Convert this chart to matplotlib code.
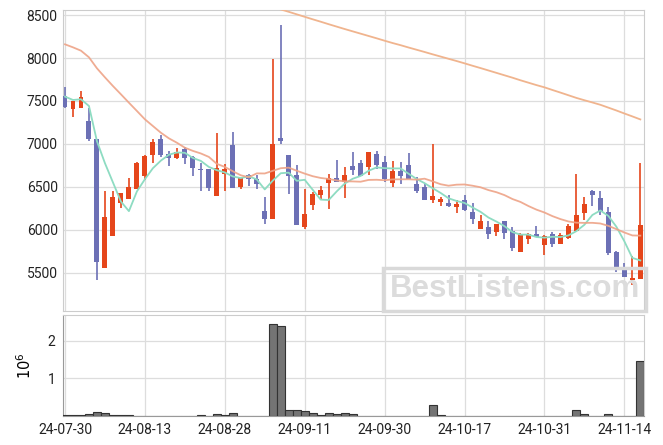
import numpy as np
import pandas as pd
import matplotlib
matplotlib.use("Agg")
import matplotlib.pyplot as plt

# daily OHLC (trading-day index 0..72)
opens = [7562, 7403, 7422, 7267, 7058, 5561, 5933, 6317, 6364, 6477,
         6631, 6872, 7058, 6888, 6841, 6942, 6852, 6710, 6709, 6399,
         6655, 6988, 6503, 6640, 6593, 6221, 6132, 7070, 6872, 6640,
         6031, 6291, 6411, 6547, 6601, 6558, 6744, 6779, 6736, 6884,
         6791, 6544, 6686, 6756, 6535, 6500, 6352, 6322, 6314, 6264,
         6349, 6213, 6016, 6030, 5980, 6105, 5991, 5744, 5898, 5953,
         5823, 5953, 5840, 5903, 5985, 6201, 6453, 6372, 6209, 5739,
         5553, 5415, 5435]
highs = [7659, 7500, 7616, 7415, 7058, 6453, 6453, 6430, 6601, 6790,
         6870, 7058, 7105, 6922, 6950, 6970, 6860, 6775, 6709, 7124,
         6767, 7136, 6610, 6650, 6636, 6380, 7985, 8384, 6872, 6752,
         6473, 6442, 6508, 6647, 6814, 6733, 6907, 6810, 6907, 6919,
         6864, 6802, 6791, 6895, 6613, 6550, 6996, 6383, 6410, 6349,
         6407, 6314, 6171, 6101, 6075, 6110, 6035, 5960, 5960, 6042,
         5940, 5980, 5960, 6073, 6651, 6380, 6460, 6450, 6271, 5760,
         5616, 5694, 6783]
lows = [7415, 7310, 7422, 7038, 5418, 5561, 5933, 6252, 6364, 6477,
        6581, 6779, 6852, 6748, 6822, 6764, 6631, 6453, 6450, 6399,
        6450, 6485, 6480, 6515, 6473, 6070, 6125, 7000, 6415, 6055,
        6008, 6237, 6345, 6244, 6555, 6369, 6636, 6625, 6643, 6705,
        6561, 6503, 6535, 6590, 6427, 6345, 6310, 6275, 6264, 6202,
        6225, 6070, 6016, 5898, 5926, 5892, 5756, 5740, 5833, 5915,
        5709, 5799, 5835, 5900, 5985, 6116, 6279, 6171, 5707, 5514,
        5450, 5360, 5430]
closes = [7427, 7500, 7543, 7058, 5631, 6151, 6384, 6430, 6500, 6779,
          6860, 7023, 6872, 6841, 6911, 6841, 6724, 6700, 6492, 6721,
          6709, 6492, 6605, 6597, 6538, 6128, 7000, 7038, 6631, 6062,
          6189, 6419, 6465, 6608, 6561, 6643, 6701, 6631, 6907, 6759,
          6597, 6686, 6631, 6597, 6457, 6352, 6395, 6357, 6283, 6302,
          6236, 6132, 6105, 5949, 6066, 5969, 5790, 5957, 5953, 5922,
          5934, 5840, 5942, 6047, 6171, 6302, 6410, 6206, 5730, 5545,
          5456, 5442, 6058]

# volume in millions
volumes = [0.02, 0.02, 0.02, 0.05, 0.10, 0.07, 0.02, 0.02, 0.02, 0,
           0, 0, 0, 0, 0, 0, 0, 0.02, 0, 0.04,
           0.02, 0.07, 0, 0, 0, 0.01, 2.43, 2.39, 0.17, 0.15,
           0.13, 0.07, 0.02, 0.07, 0.04, 0.07, 0.04, 0.01, 0.01, 0.01,
           0.005, 0.005, 0.005, 0.005, 0.005, 0, 0.28, 0.02, 0, 0,
           0, 0.01, 0, 0.01, 0, 0, 0.01, 0.01, 0.01, 0.01,
           0, 0, 0, 0, 0.16, 0.04, 0.01, 0.01, 0.04, 0.01,
           0.01, 0.01, 1.46]

# moving averages: first values depend on earlier days
ma5_head = [7551, 7512, 7520, 7442]
ma20_head = [8159, 8124, 8085, 8008, 7880, 7775, 7674, 7578, 7480, 7384,
             7287, 7209, 7131, 7066, 7015, 6957, 6920, 6890, 6850]
# long moving average, only visible from day 26 on
ma_long = [np.nan] * 26 + [
    8594, 8565, 8537, 8508, 8479, 8450, 8422, 8393, 8365, 8337,
    8310, 8283, 8256, 8229, 8201, 8174, 8149, 8122, 8096, 8070,
    8043, 8017, 7991, 7965, 7938, 7910, 7883, 7855, 7827, 7799,
    7771, 7741, 7713, 7685, 7659, 7628, 7598, 7567, 7536, 7509,
    7483, 7456, 7423, 7390, 7355, 7321, 7286]

tick_pos = [0, 10, 20, 30, 40, 50, 60, 70]
tick_labels = ["24-07-30", "24-08-13", "24-08-28", "24-09-11",
               "24-09-30", "24-10-17", "24-10-31", "24-11-14"]

UP = "#e5461b"
DOWN = "#6c70b5"


def main():
    plt.rcParams["font.family"] = ["Roboto", "DejaVu Sans"]
    fig = plt.figure(figsize=(6.63, 4.45), dpi=100)
    ax = fig.add_axes([0.0943, 0.3011, 0.8763, 0.6764])
    vax = fig.add_axes([0.0943, 0.0652, 0.8763, 0.2269], sharex=ax)

    x = np.arange(len(closes))
    o = np.array(opens, dtype=float)
    c = np.array(closes, dtype=float)
    colors = [UP if cc >= oo else DOWN for oo, cc in zip(o, c)]

    s = pd.Series(c)
    ma5 = s.rolling(5).mean().to_numpy()
    ma5[:4] = ma5_head
    ma20 = s.rolling(20).mean().to_numpy()
    ma20[:19] = ma20_head

    ax.vlines(x, lows, highs, colors=colors, linewidth=1.2, zorder=2)
    ax.bar(x, np.maximum(np.abs(c - o), 8), bottom=np.minimum(o, c),
           width=0.62, color=colors, zorder=3)

    ax.plot(x, ma5, color="#8edcc2", lw=1.3, zorder=4)
    ax.plot(x, ma20, color="#eea387", lw=1.3, zorder=4, alpha=0.9)
    ax.plot(x, ma_long, color="#f0b48e", lw=1.3, zorder=4)

    ax.set_ylim(5058, 8558)
    ax.set_yticks([5500, 6000, 6500, 7000, 7500, 8000, 8500])
    ax.set_xlim(-0.31, 72.4)
    ax.grid(True, color="#dddddd", lw=0.9)
    ax.set_axisbelow(True)
    ax.tick_params(axis="both", length=0, labelsize=10, colors="#222222")
    ax.tick_params(axis="x", labelbottom=False)

    vax.bar(x, volumes, width=1.0, color="#747474", edgecolor="#333333",
            linewidth=0.8, zorder=3)
    vax.set_ylim(0, 2.68)
    vax.set_yticks([1, 2])
    vax.set_ylabel(r"$10^6$", fontsize=10.5, labelpad=10)
    vax.set_xticks(tick_pos)
    vax.set_xticklabels(tick_labels)
    vax.grid(True, color="#dddddd", lw=0.9)
    vax.set_axisbelow(True)
    vax.tick_params(axis="both", length=0, labelsize=10, colors="#222222", pad=5)

    for a in (ax, vax):
        for sp in a.spines.values():
            sp.set_color("#cccccc")
    vax.spines["left"].set_color("#999999")
    vax.spines["bottom"].set_color("#999999")

    fig.text(0.7765, 0.3495, "BestListens.com", ha="center", va="center",
             fontsize=22.5, fontweight="bold", family="Liberation Sans",
             color="#dcdcdc", zorder=10,
             bbox=dict(boxstyle="square,pad=0.2", facecolor="none",
                       edgecolor="#d9d9d9", linewidth=2.5))

    fig.savefig("out.png", dpi=100)


if __name__ == "__main__":
    main()
